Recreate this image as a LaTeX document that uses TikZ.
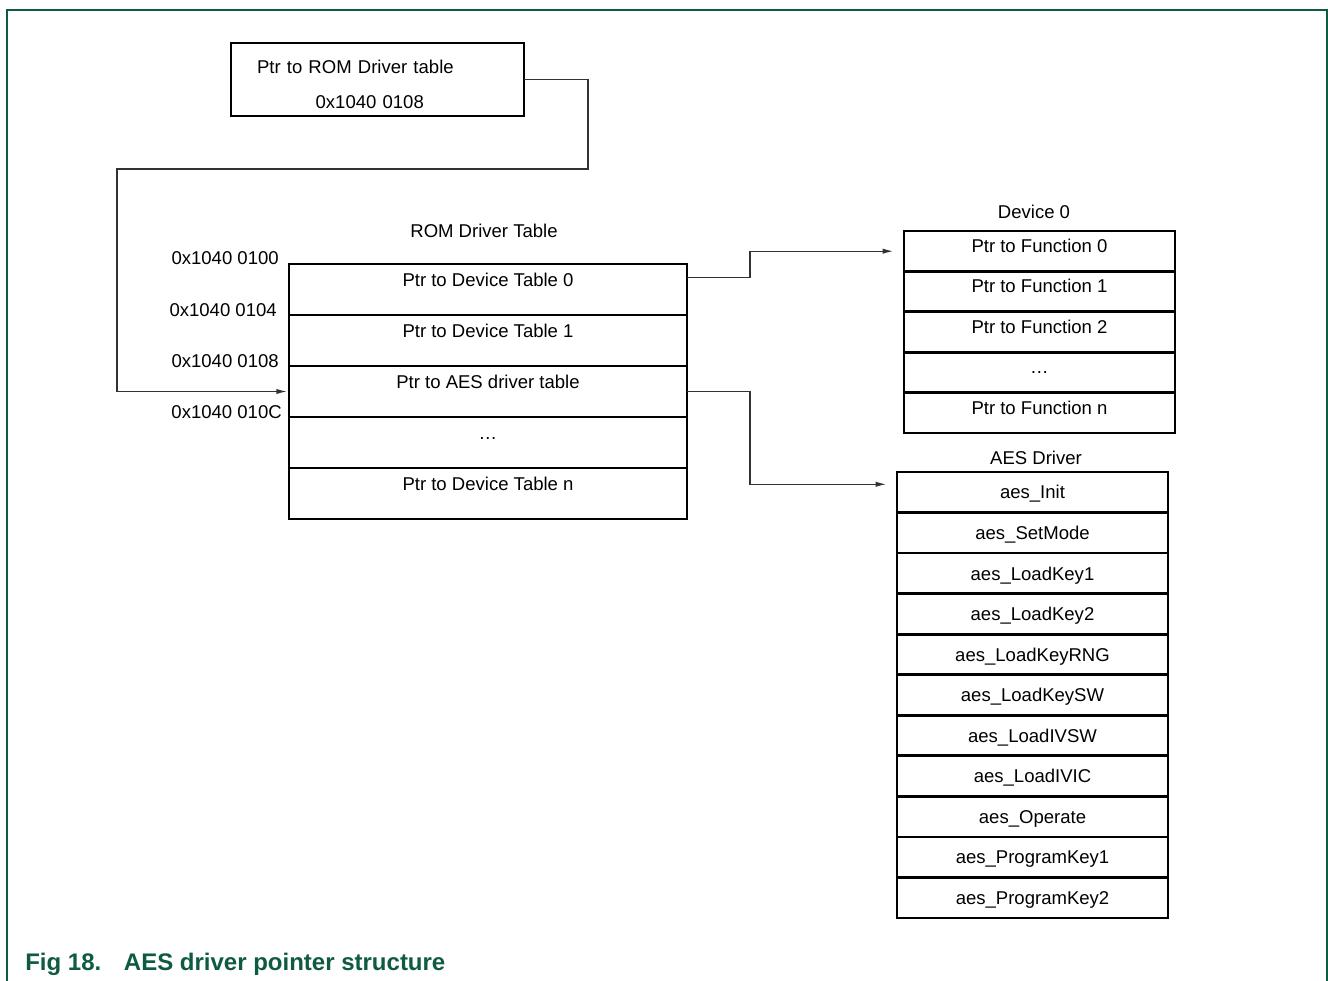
\documentclass[tikz,border=0pt]{standalone}
\usepackage{fontspec}
\setmainfont{Liberation Sans}
\usetikzlibrary{positioning,arrows.meta}
\definecolor{nxpgreen}{RGB}{14,90,66}
\definecolor{linkgray}{RGB}{50,50,50}
\tikzset{
  rowbox/.style={draw,line width=2pt,outer sep=0pt,inner sep=0pt},
  romrow/.style={rowbox,minimum width=298.5pt,minimum height=38.25pt,text height=10pt,text depth=14pt},
  devrow/.style={rowbox,minimum width=203.25pt,minimum height=30.3pt,text height=10pt,text depth=8pt},
  aesrow/.style={rowbox,minimum width=203.25pt,minimum height=30.4pt,text height=10pt,text depth=0pt},
  addr/.style={anchor=east,inner sep=0pt},
  link/.style={->,line width=1pt,draw=linkgray,shorten >=8pt},
}
\begin{document}
\begin{tikzpicture}[x=0.75pt,y=-0.75pt,font=\fontsize{13.9}{16}\selectfont,>={Latex[length=8pt,width=4pt]}]
\useasboundingbox (0,0) rectangle (1328,981);
% frame
\draw[nxpgreen,line width=1.1pt] (7,981) -- (7,10) -- (1327,10) -- (1327,981);

% pointer to the ROM driver table
\node[rowbox,minimum width=219.75pt,minimum height=54.75pt,inner xsep=19.5pt,text width=180.75pt,align=left] (romptr) at (377.5,79.5) {\rule{0pt}{17.5pt}Ptr to ROM Driver table\\[10pt]\hspace*{44pt}0x1040 0108};

% ROM driver table
\node (romtitle) at (484,231) {ROM Driver Table};
\node[romrow] (rom1) at (488,289.5) {Ptr to Device Table 0};
\node[romrow,below=0pt of rom1] (rom2) {Ptr to Device Table 1};
\node[romrow,below=0pt of rom2] (rom3) {Ptr to AES driver table};
\node[romrow,below=0pt of rom3] (rom4) {\ldots};
\node[romrow,below=0pt of rom4] (rom5) {Ptr to Device Table n};
\node[addr] (adr0) at (279,258) {0x1040 0100};
\node[addr] (adr4) at (277,310) {0x1040 0104};
\node[addr] (adr8) at (279,361) {0x1040 0108};
\node[addr] (adrC) at (282,412) {0x1040 010C};

% device 0
\node (devtitle) at (1034,212) {Device 0};
\node[devrow] (dev1) at (1039.5,251.2) {Ptr to Function 0};
\node[devrow,below=0pt of dev1] (dev2) {Ptr to Function 1};
\node[devrow,below=0pt of dev2] (dev3) {Ptr to Function 2};
\node[devrow,below=0pt of dev3] (dev4) {\ldots};
\node[devrow,below=0pt of dev4] (dev5) {Ptr to Function n};

% AES driver
\node (aestitle) at (1036,458) {AES Driver};
\node[aesrow] (aes1) at (1032.5,492.3) {aes\_Init};
\node[aesrow,below=0pt of aes1] (aes2) {aes\_SetMode};
\node[aesrow,below=0pt of aes2] (aes3) {aes\_LoadKey1};
\node[aesrow,below=0pt of aes3] (aes4) {aes\_LoadKey2};
\node[aesrow,below=0pt of aes4] (aes5) {aes\_LoadKeyRNG};
\node[aesrow,below=0pt of aes5] (aes6) {aes\_LoadKeySW};
\node[aesrow,below=0pt of aes6] (aes7) {aes\_LoadIVSW};
\node[aesrow,below=0pt of aes7] (aes8) {aes\_LoadIVIC};
\node[aesrow,below=0pt of aes8] (aes9) {aes\_Operate};
\node[aesrow,below=0pt of aes9] (aes10) {aes\_ProgramKey1};
\node[aesrow,below=0pt of aes10] (aes11) {aes\_ProgramKey2};

% pointers
\draw[link,shorten >=1.5pt] (romptr.east) -| (588,169) -- (117,169) |- (rom3.west);
\draw[link] ([yshift=9pt]rom1.east) -- ++(63,0) |- (dev1.west);
\draw[link] (rom3.east) -- ++(63,0) |- ([yshift=6pt]aes1.west);

% caption
\node[anchor=base west,inner sep=0pt,text=nxpgreen,font=\fontsize{18}{20}\selectfont\bfseries] (caption) at (25,970) {Fig 18.\hspace{17pt}AES driver pointer structure};
\end{tikzpicture}
\end{document}
